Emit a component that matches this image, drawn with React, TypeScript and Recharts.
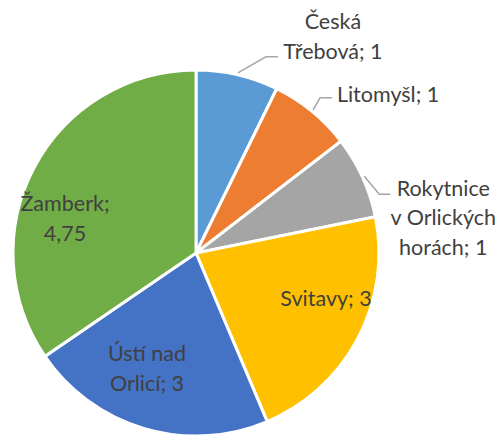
import React from 'react'
import { PieChart, Pie, Cell } from 'recharts'

// towns and their shares, clockwise from 12 o'clock
const towns = ['Česká Třebová', 'Litomyšl', 'Rokytnice v Orlických horách', 'Svitavy', 'Ústí nad Orlicí', 'Žamberk']
const counts = [1, 1, 1, 3, 3, 4.75]

const COLORS = ['#5B9BD5', '#ED7D31', '#A5A5A5', '#FFC000', '#4472C4', '#70AD47']

const data = towns.map((name, i) => ({ name, value: counts[i] }))

// label placement (Excel "best fit" style), relative to pie centre or leader end
type LabelLayout =
  | { kind: 'inside'; dx: number; dy: number; breaks: number[] }
  | { kind: 'outside'; elbow: [number, number]; tail: number; tx: number; ty: number; breaks: number[] }

const LAYOUT: LabelLayout[] = [
  { kind: 'outside', elbow: [28, -16], tail: 12, tx: 55, ty: -21, breaks: [0] },
  { kind: 'outside', elbow: [7, -12], tail: 12, tx: 56, ty: -4, breaks: [] },
  { kind: 'outside', elbow: [15, 18], tail: 11, tx: 53, ty: 23, breaks: [0, 2] },
  { kind: 'inside', dx: 130, dy: 45, breaks: [] },
  { kind: 'inside', dx: -49, dy: 115, breaks: [1] },
  { kind: 'inside', dx: -131, dy: -35, breaks: [0] },
]

const FONT = 'Lato, "Open Sans", sans-serif'
const TEXT_COLOR = '#404040'
const LINE_H = 29.5
const RAD = Math.PI / 180

const fmt = (v: number) => String(v).replace('.', ',')

const splitLines = (text: string, breaks: number[]) => {
  const words = text.split(' ')
  const lines: string[] = []
  let cur: string[] = []
  words.forEach((w, i) => {
    cur.push(w)
    if (breaks.includes(i)) {
      lines.push(cur.join(' '))
      cur = []
    }
  })
  if (cur.length) lines.push(cur.join(' '))
  return lines
}

const Lines = ({ x, y, lines }: { x: number; y: number; lines: string[] }) => (
  <text
    textAnchor="middle"
    dominantBaseline="central"
    fill={TEXT_COLOR}
    style={{ fontFamily: FONT, fontSize: 21.5 }}
  >
    {lines.map((l, i) => (
      <tspan key={i} x={x} y={y + (i - (lines.length - 1) / 2) * LINE_H}>
        {l}
      </tspan>
    ))}
  </text>
)

const renderLabel = (props: any) => {
  const { cx, cy, midAngle, outerRadius, index, name, value } = props
  const layout = LAYOUT[index]
  const lines = splitLines(`${name}; ${fmt(value)}`, layout.breaks)
  if (layout.kind === 'inside') {
    return <Lines key={index} x={cx + layout.dx} y={cy + layout.dy} lines={lines} />
  }
  const r = outerRadius + 2
  const sx = cx + r * Math.cos(-midAngle * RAD)
  const sy = cy + r * Math.sin(-midAngle * RAD)
  const ex = sx + layout.elbow[0]
  const ey = sy + layout.elbow[1]
  const tx = ex + layout.tail
  return (
    <g key={index}>
      <polyline
        points={`${sx},${sy} ${ex},${ey} ${tx},${ey}`}
        fill="none"
        stroke="#A6A6A6"
        strokeWidth={1.5}
      />
      <Lines x={tx + layout.tx} y={ey + layout.ty} lines={lines} />
    </g>
  )
}

export default function App() {
  return (
    <div style={{ position: 'absolute', left: 0, top: 0, background: '#fff' }}>
      <PieChart width={496} height={436} margin={{ top: 0, right: 0, bottom: 0, left: 0 }}>
        <Pie
          data={data}
          dataKey="value"
          nameKey="name"
          cx={196}
          cy={253}
          outerRadius={183}
          startAngle={90}
          endAngle={-270}
          stroke="#fff"
          strokeWidth={3}
          label={renderLabel}
          labelLine={false}
          isAnimationActive={false}
        >
          {data.map((entry, index) => (
            <Cell key={`cell-${index}`} fill={COLORS[index % COLORS.length]} />
          ))}
        </Pie>
      </PieChart>
    </div>
  )
}
